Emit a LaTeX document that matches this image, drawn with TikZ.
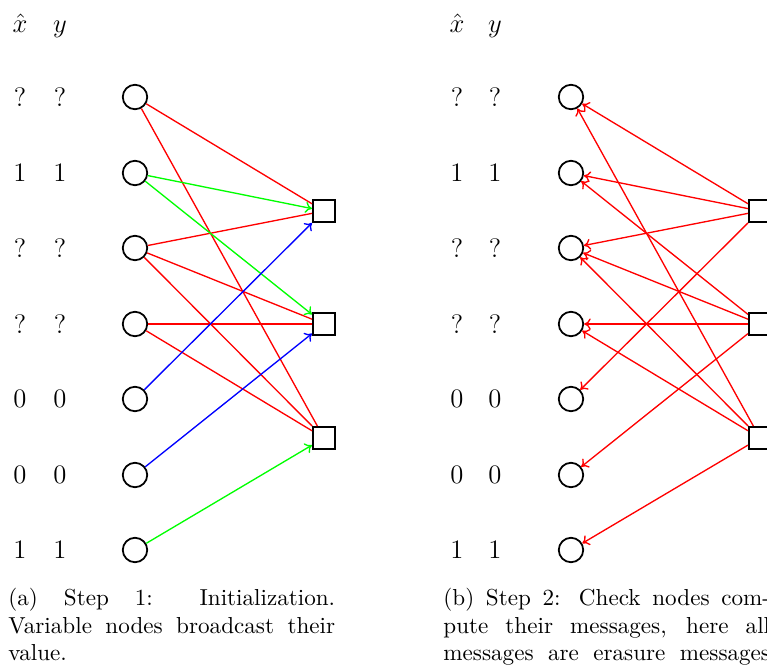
\documentclass[tikz,border=0pt]{standalone}
\usepackage{amsmath,amssymb}
\usepackage{tikz}
\usetikzlibrary{arrows.meta,positioning}
\usepackage{xcolor}
\definecolor{erasred}{rgb}{1,0,0}
\definecolor{bitgreen}{rgb}{0,1,0}
\definecolor{bitblue}{rgb}{0,0,1}
\tikzset{
  varnode/.style ={circle, draw=black, thick, minimum size=11pt, inner sep=0pt},
  chknode/.style ={rectangle, draw=black, thick, minimum size=10pt, inner sep=0pt},
  lbl/.style     ={inner sep=0pt, font=\large},
  head/.style    ={inner sep=0pt, anchor=base, font=\large},
  capt/.style    ={inner sep=0pt, anchor=north west, text width=147pt, align=justify,
                   font=\fontsize{10.4pt}{12.4pt}\selectfont},
  edge/.style    ={semithick},                      % kein Pfeil
  msg/.style     ={semithick, -{To[length=3pt,width=5pt]}},
}

\begin{document}
\begin{tikzpicture}[x=0.45pt, y=-0.45pt]
  \useasboundingbox (0,0) rectangle (767,667);
  \clip (0,0) rectangle (767,667);

  % (a) Initialisierung
  \node[head] (axh) at (20,32)  {$\hat{x}$};
  \node[head] (ayh) at (60,32)  {$y$};
  \node[lbl] (ax1) at (20,97)  {?}; \node[lbl] (ay1) at (60,97)  {?}; \node[varnode] (a1) at (135,97)  {};
  \node[lbl] (ax2) at (20,173) {1}; \node[lbl] (ay2) at (60,173) {1}; \node[varnode] (a2) at (135,173) {};
  \node[lbl] (ax3) at (20,248) {?}; \node[lbl] (ay3) at (60,248) {?}; \node[varnode] (a3) at (135,248) {};
  \node[lbl] (ax4) at (20,324) {?}; \node[lbl] (ay4) at (60,324) {?}; \node[varnode] (a4) at (135,324) {};
  \node[lbl] (ax5) at (20,399) {0}; \node[lbl] (ay5) at (60,399) {0}; \node[varnode] (a5) at (135,399) {};
  \node[lbl] (ax6) at (20,475) {0}; \node[lbl] (ay6) at (60,475) {0}; \node[varnode] (a6) at (135,475) {};
  \node[lbl] (ax7) at (20,550) {1}; \node[lbl] (ay7) at (60,550) {1}; \node[varnode] (a7) at (135,550) {};
  \node[chknode] (ac1) at (324,211) {};
  \node[chknode] (ac2) at (324,324) {};
  \node[chknode] (ac3) at (324,438) {};
  \draw[edge, erasred] (a1) -- (ac1);
  \draw[edge, erasred] (a1) -- (ac3);
  \draw[edge, erasred] (a3) -- (ac1);
  \draw[edge, erasred] (a3) -- (ac2);
  \draw[edge, erasred] (a3) -- (ac3);
  \draw[edge, erasred] (a4) -- (ac2);
  \draw[edge, erasred] (a4) -- (ac3);
  \draw[msg, bitgreen] (a2) -- (ac1);
  \draw[msg, bitgreen] (a2) -- (ac2);
  \draw[msg, bitblue]  (a5) -- (ac1);
  \draw[msg, bitblue]  (a6) -- (ac2);
  \draw[msg, bitgreen] (a7) -- (ac3);
  \node[capt] (acap) at (8,588)
    {(a) Step 1: Initialization. \mbox{Variable} nodes broadcast their value.};

  % (b) Pruefknoten
  \node[head] (bxh) at (457,32) {$\hat{x}$};
  \node[head] (byh) at (495,32) {$y$};
  \node[lbl] (bx1) at (457,97)  {?}; \node[lbl] (by1) at (495,97)  {?}; \node[varnode] (b1) at (571,97)  {};
  \node[lbl] (bx2) at (457,173) {1}; \node[lbl] (by2) at (495,173) {1}; \node[varnode] (b2) at (571,173) {};
  \node[lbl] (bx3) at (457,248) {?}; \node[lbl] (by3) at (495,248) {?}; \node[varnode] (b3) at (571,248) {};
  \node[lbl] (bx4) at (457,324) {?}; \node[lbl] (by4) at (495,324) {?}; \node[varnode] (b4) at (571,324) {};
  \node[lbl] (bx5) at (457,399) {0}; \node[lbl] (by5) at (495,399) {0}; \node[varnode] (b5) at (571,399) {};
  \node[lbl] (bx6) at (457,475) {0}; \node[lbl] (by6) at (495,475) {0}; \node[varnode] (b6) at (571,475) {};
  \node[lbl] (bx7) at (457,550) {1}; \node[lbl] (by7) at (495,550) {1}; \node[varnode] (b7) at (571,550) {};
  \node[chknode] (bc1) at (760,211) {};
  \node[chknode] (bc2) at (760,324) {};
  \node[chknode] (bc3) at (760,438) {};
  \draw[msg, erasred] (bc1) -- (b1);
  \draw[msg, erasred] (bc1) -- (b2);
  \draw[msg, erasred] (bc1) -- (b3);
  \draw[msg, erasred] (bc1) -- (b5);
  \draw[msg, erasred] (bc2) -- (b2);
  \draw[msg, erasred] (bc2) -- (b3);
  \draw[msg, erasred] (bc2) -- (b4);
  \draw[msg, erasred] (bc2) -- (b6);
  \draw[msg, erasred] (bc3) -- (b1);
  \draw[msg, erasred] (bc3) -- (b3);
  \draw[msg, erasred] (bc3) -- (b4);
  \draw[msg, erasred] (bc3) -- (b7);
  \node[capt] (bcap) at (443,588)
    {(b) Step 2: Check nodes com\-pute their messages, here all messages are erasure messages\linebreak};
\end{tikzpicture}
\end{document}
